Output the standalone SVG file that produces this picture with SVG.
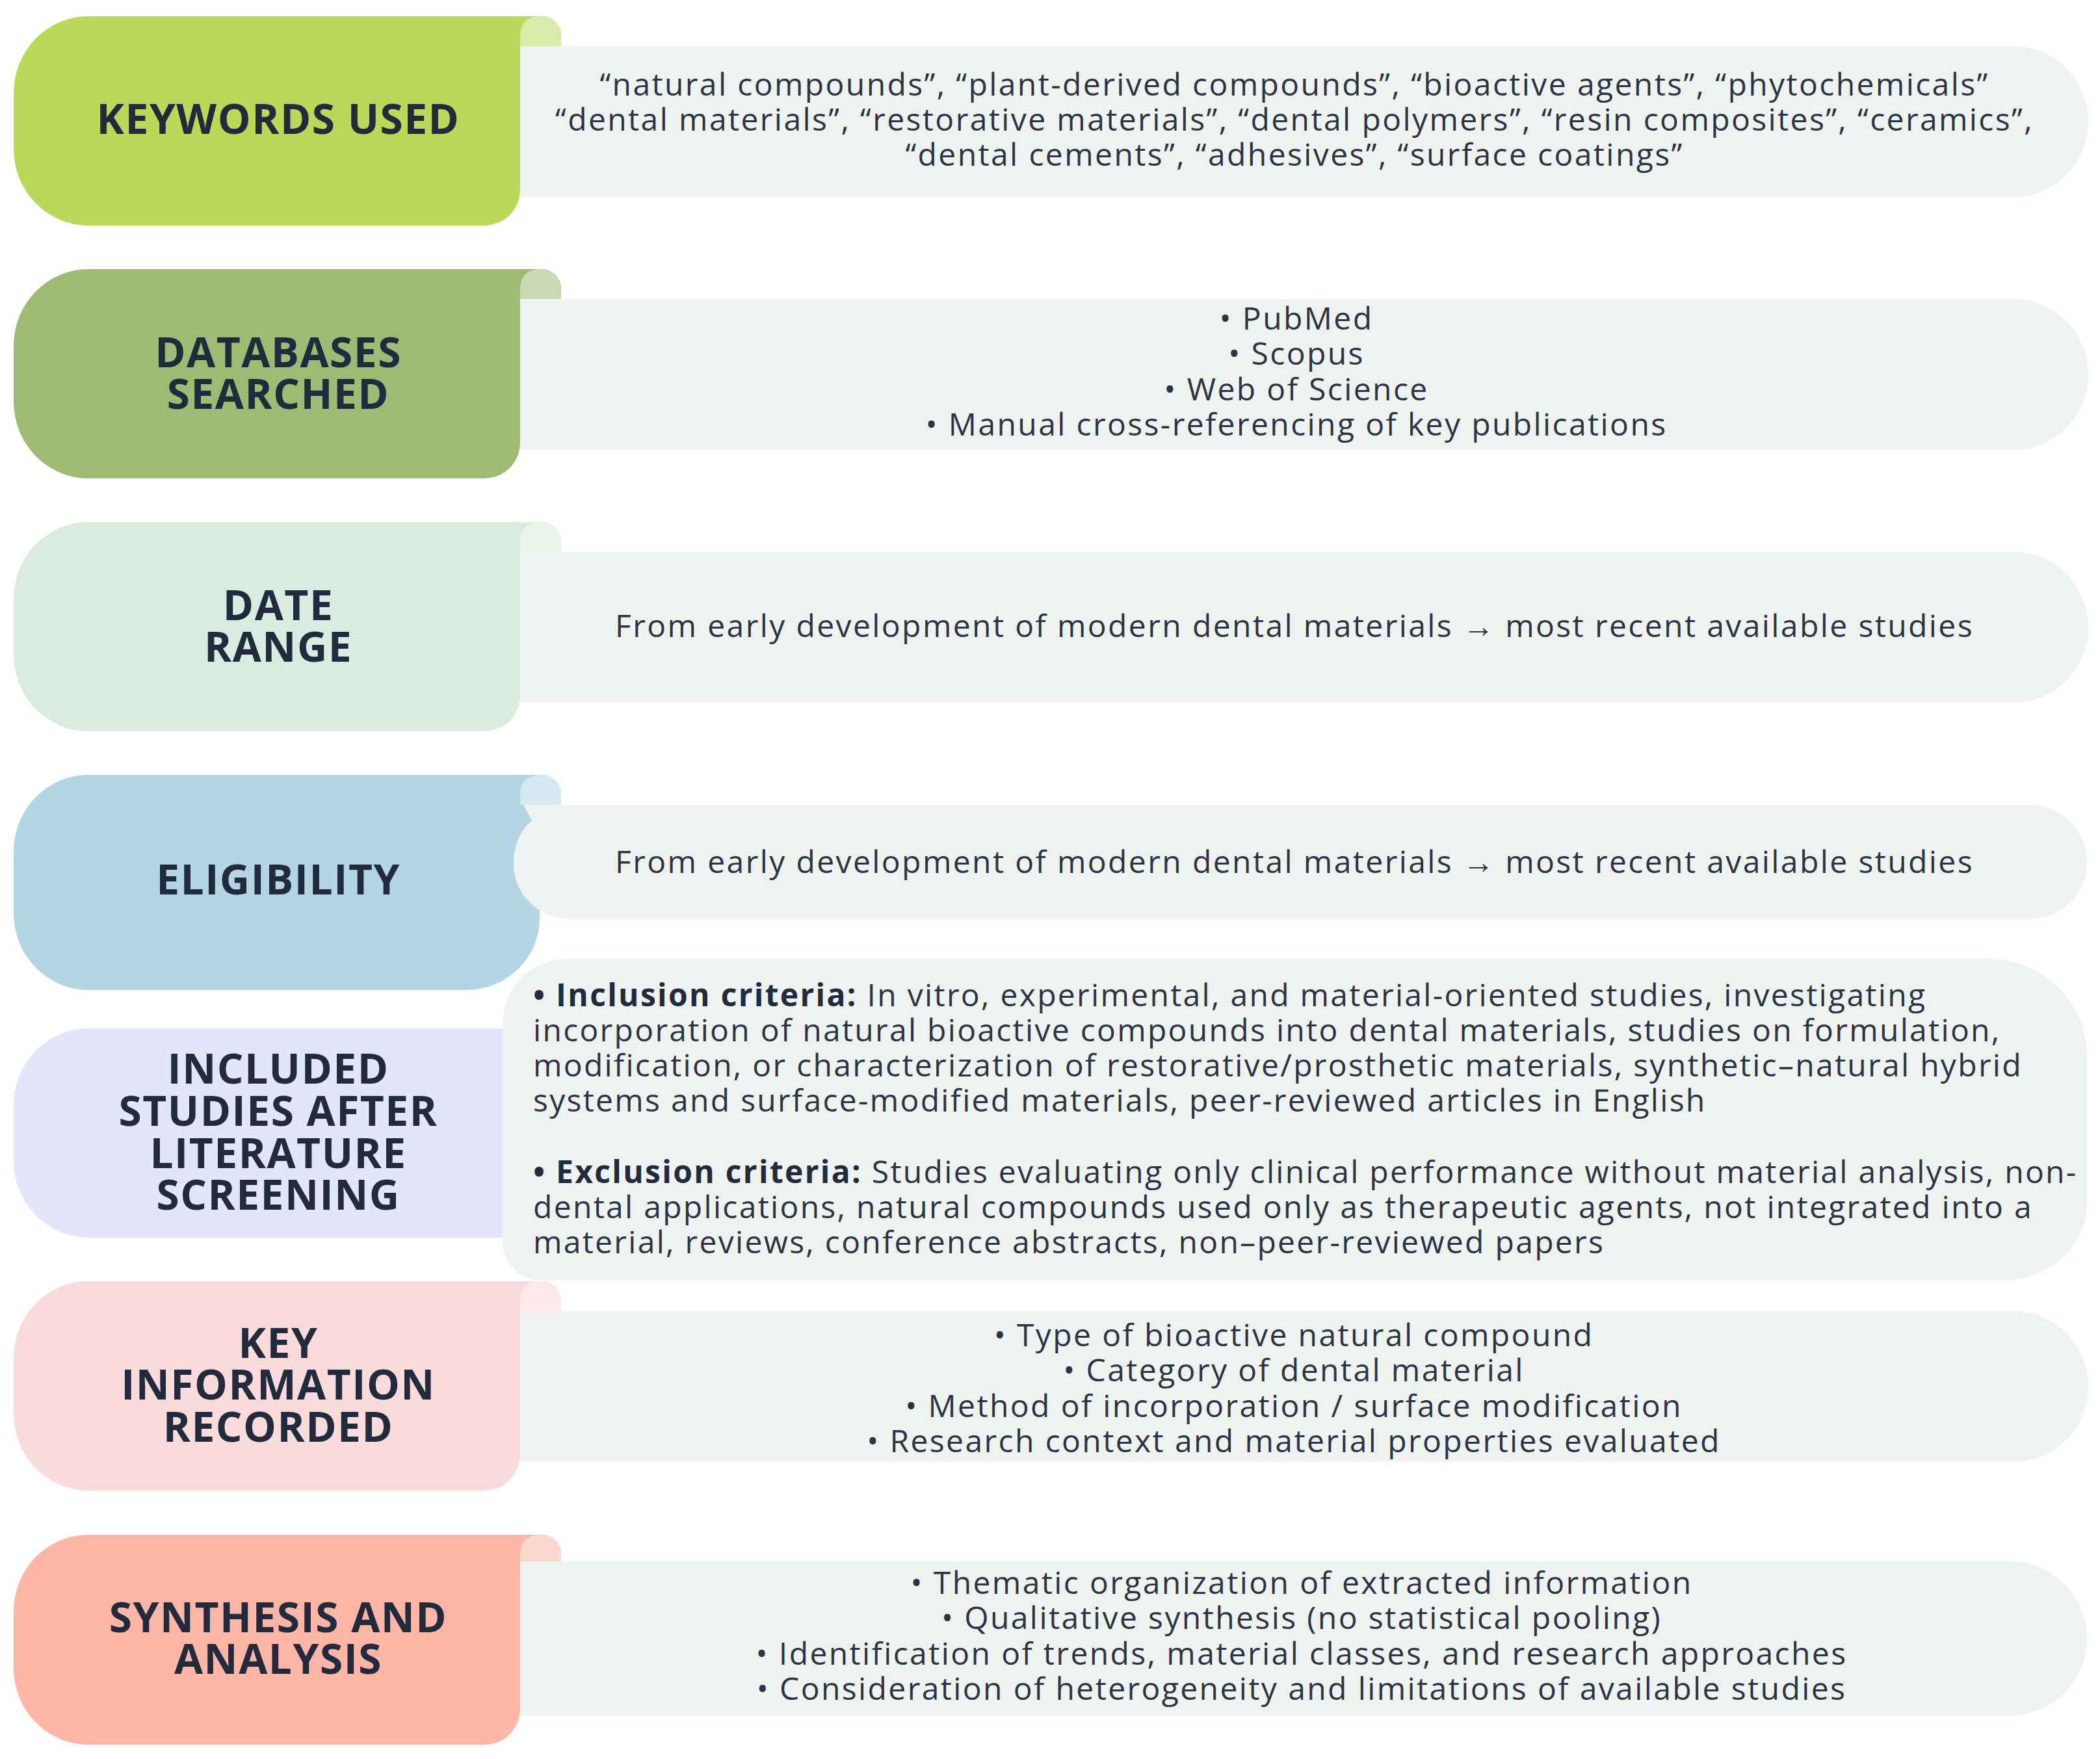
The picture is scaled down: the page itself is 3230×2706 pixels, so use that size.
<svg xmlns="http://www.w3.org/2000/svg" width="3230" height="2706" viewBox="0 0 3230 2706">
<style>
.lbl{font-family:"Open Sans","Liberation Sans",sans-serif;font-weight:700;font-size:64px;letter-spacing:1.5px;fill:#222B3D;text-anchor:middle}
.txt{font-family:"Open Sans","Liberation Sans",sans-serif;font-weight:400;font-size:48px;letter-spacing:2.4px;fill:#2C3345;text-anchor:middle}
.txl{font-family:"Open Sans","Liberation Sans",sans-serif;font-weight:400;font-size:48px;letter-spacing:2.3px;fill:#2C3345;text-anchor:start}
.b{font-weight:700;fill:#222B3D}
.panel{fill:#EFF3F0}
</style>
<rect width="3230" height="2706" fill="#FFFFFF"/>

<g id="keywords-used">
<path fill="#B9DA58" d="M136,25 H833 A30,30 0 0 1 863,55 V71 H800 V292 A55,55 0 0 1 745,347 H136 A115,118 0 0 1 21,229 V143 A115,118 0 0 1 136,25 Z"/>
<path fill="#D8EBA9" d="M800,71 V57 Q800,25 832,25 A31,31 0 0 1 863,56 V71 Z"/>
<path class="panel" d="M800,71 H3097 A115,116 0 0 1 3097,303 H800 Z"/>
<text class="lbl" x="428" y="206">KEYWORDS USED</text>
<text class="txt"><tspan x="1991" y="147">“natural compounds”, “plant-derived compounds”, “bioactive agents”, “phytochemicals”</tspan><tspan x="1991" y="201">“dental materials”, “restorative materials”, “dental polymers”, “resin composites”, “ceramics”,</tspan><tspan x="1991" y="255">“dental cements”, “adhesives”, “surface coatings”</tspan></text>
</g>

<g id="databases-searched">
<path fill="#9DBB72" d="M136,414 H833 A30,30 0 0 1 863,444 V460 H800 V681 A55,55 0 0 1 745,736 H136 A115,118 0 0 1 21,618 V532 A115,118 0 0 1 136,414 Z"/>
<path fill="#C8D9B3" d="M800,460 V446 Q800,414 832,414 A31,31 0 0 1 863,445 V460 Z"/>
<path class="panel" d="M800,460 H3097 A115,116 0 0 1 3097,692 H800 Z"/>
<text class="lbl"><tspan x="428" y="565">DATABASES</tspan><tspan x="428" y="629">SEARCHED</tspan></text>
<text class="txt"><tspan x="1994" y="507">• PubMed</tspan><tspan x="1994" y="561">• Scopus</tspan><tspan x="1994" y="616">• Web of Science</tspan><tspan x="1994" y="670">• Manual cross-referencing of key publications</tspan></text>
</g>

<g id="date-range">
<path fill="#DAEBDF" d="M136,803 H833 A30,30 0 0 1 863,833 V849 H800 V1070 A55,55 0 0 1 745,1125 H136 A115,118 0 0 1 21,1007 V921 A115,118 0 0 1 136,803 Z"/>
<path fill="#EAF4ED" d="M800,849 V835 Q800,803 832,803 A31,31 0 0 1 863,834 V849 Z"/>
<path class="panel" d="M800,849 H3097 A115,116 0 0 1 3097,1081 H800 Z"/>
<text class="lbl"><tspan x="428" y="954">DATE</tspan><tspan x="428" y="1018">RANGE</tspan></text>
<text class="txt" x="1991" y="980">From early development of modern dental materials → most recent available studies</text>
</g>

<g id="eligibility">
<path fill="#B4D5E3" d="M136,1192 H833 A30,30 0 0 1 863,1222 V1238 H830 V1413 A113,110 0 0 1 717,1523 H136 A115,118 0 0 1 21,1405 V1310 A115,118 0 0 1 136,1192 Z"/>
<path fill="#D6E9F2" d="M800,1238 V1224 Q800,1192 832,1192 A31,31 0 0 1 863,1223 V1238 Z"/>
<path class="panel" d="M805,1238 H3122 A88,88 0 0 1 3122,1414 H880 C830,1414 790,1378 790,1328 C790,1300 800,1278 818,1262 Z"/>
<text class="lbl" x="428" y="1376">ELIGIBILITY</text>
<text class="txt" x="1991" y="1343">From early development of modern dental materials → most recent available studies</text>
</g>

<g id="included-studies">
<path fill="#E3E5F8" d="M136,1582 H800 V1904 H136 A115,118 0 0 1 21,1786 V1700 A115,118 0 0 1 136,1582 Z"/>
<path class="panel" d="M873,1475 H3060 A150,150 0 0 1 3210,1625 V1850 A130,120 0 0 1 3080,1970 H833 A60,60 0 0 1 773,1910 V1575 A100,100 0 0 1 873,1475 Z"/>
<text class="lbl"><tspan x="428" y="1667">INCLUDED</tspan><tspan x="428" y="1732">STUDIES AFTER</tspan><tspan x="428" y="1797">LITERATURE</tspan><tspan x="428" y="1861">SCREENING</tspan></text>
<text class="txl"><tspan x="820" y="1548"><tspan class="b">• Inclusion criteria:</tspan> In vitro, experimental, and material-oriented studies, investigating</tspan><tspan x="820" y="1602">incorporation of natural bioactive compounds into dental materials, studies on formulation,</tspan><tspan x="820" y="1656">modification, or characterization of restorative/prosthetic materials, synthetic–natural hybrid</tspan><tspan x="820" y="1710">systems and surface-modified materials, peer-reviewed articles in English</tspan><tspan x="820" y="1820"><tspan class="b">• Exclusion criteria:</tspan> Studies evaluating only clinical performance without material analysis, non-</tspan><tspan x="820" y="1874">dental applications, natural compounds used only as therapeutic agents, not integrated into a</tspan><tspan x="820" y="1928">material, reviews, conference abstracts, non–peer-reviewed papers</tspan></text>
</g>

<g id="key-information">
<path fill="#FADBDB" d="M136,1971 H833 A30,30 0 0 1 863,2001 V2017 H800 V2238 A55,55 0 0 1 745,2293 H136 A115,118 0 0 1 21,2175 V2089 A115,118 0 0 1 136,1971 Z"/>
<path fill="#FDE9E9" d="M800,2017 V2003 Q800,1971 832,1971 A31,31 0 0 1 863,2002 V2017 Z"/>
<path class="panel" d="M800,2017 H3097 A115,116 0 0 1 3097,2249 H800 Z"/>
<text class="lbl"><tspan x="428" y="2089">KEY</tspan><tspan x="428" y="2153">INFORMATION</tspan><tspan x="428" y="2218">RECORDED</tspan></text>
<text class="txt"><tspan x="1990" y="2071">• Type of bioactive natural compound</tspan><tspan x="1990" y="2125">• Category of dental material</tspan><tspan x="1990" y="2180">• Method of incorporation / surface modification</tspan><tspan x="1990" y="2234">• Research context and material properties evaluated</tspan></text>
</g>

<g id="synthesis-analysis">
<path fill="#FDB6A5" d="M136,2361 H833 A30,30 0 0 1 863,2391 V2402 H800 V2629 A55,55 0 0 1 745,2684 H136 A115,118 0 0 1 21,2566 V2479 A115,118 0 0 1 136,2361 Z"/>
<path fill="#FDD8CE" d="M800,2402 V2393 Q800,2361 832,2361 A31,31 0 0 1 863,2392 V2402 Z"/>
<path class="panel" d="M800,2402 H3092 A118,118.5 0 0 1 3092,2639 H800 Z"/>
<text class="lbl"><tspan x="428" y="2511">SYNTHESIS AND</tspan><tspan x="428" y="2575">ANALYSIS</tspan></text>
<text class="txt"><tspan x="2002" y="2452">• Thematic organization of extracted information</tspan><tspan x="2002" y="2506">• Qualitative synthesis (no statistical pooling)</tspan><tspan x="2002" y="2561">• Identification of trends, material classes, and research approaches</tspan><tspan x="2002" y="2615">• Consideration of heterogeneity and limitations of available studies</tspan></text>
</g>
</svg>
